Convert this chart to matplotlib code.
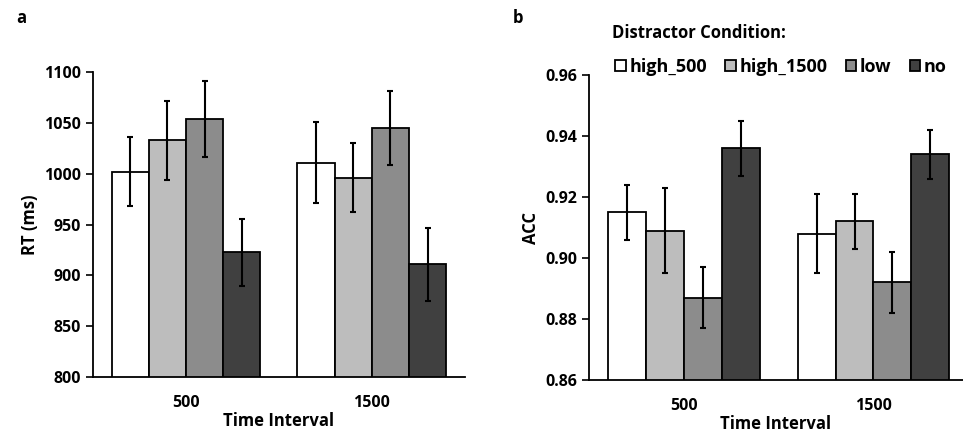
import numpy as np
import matplotlib.pyplot as plt
from matplotlib.patches import Patch

plt.rcParams['font.family'] = ['Open Sans', 'DejaVu Sans']
plt.rcParams['font.weight'] = 'bold'

intervals = ['500', '1500']
conditions = ['high_500', 'high_1500', 'low', 'no']
colors = ['#ffffff', '#bdbdbd', '#8c8c8c', '#404040']

# RT (ms) per condition, [500, 1500]
rt = {'high_500': [1002, 1011], 'high_1500': [1033, 996],
      'low': [1054, 1045], 'no': [923, 911]}
rt_err = {'high_500': [34, 40], 'high_1500': [39, 34],
          'low': [37, 36], 'no': [33, 36]}

acc = {'high_500': [0.915, 0.908], 'high_1500': [0.909, 0.912],
       'low': [0.887, 0.892], 'no': [0.936, 0.934]}
acc_err = {'high_500': [0.009, 0.013], 'high_1500': [0.014, 0.009],
           'low': [0.010, 0.010], 'no': [0.009, 0.008]}

fig = plt.figure(figsize=(9.63, 4.33), dpi=100)
ax1 = fig.add_axes([0.0966, 0.1293, 0.386, 0.704])
ax2 = fig.add_axes([0.6116, 0.1224, 0.388, 0.704])

x = np.arange(len(intervals))
w = 0.2


def draw(ax, vals, errs):
    for i, c in enumerate(conditions):
        ax.bar(x + (i - 1.5) * w, vals[c], w, color=colors[i],
               edgecolor='black', linewidth=1.3, label=c, zorder=2)
        ax.errorbar(x + (i - 1.5) * w, vals[c], yerr=errs[c], fmt='none',
                    ecolor='black', elinewidth=1.5, capsize=2, capthick=1.5, zorder=3)
    ax.set_xticks(x)
    ax.set_xticklabels(intervals)
    ax.tick_params(axis='x', length=0, pad=13, labelsize=11.5)
    ax.tick_params(axis='y', length=5, width=1.2, labelsize=11.5)
    for s in ['top', 'right']:
        ax.spines[s].set_visible(False)
    for s in ['left', 'bottom']:
        ax.spines[s].set_linewidth(1.3)
    ax.set_xlabel('Time Interval', fontsize=12, fontweight='bold', labelpad=1)


draw(ax1, rt, rt_err)
ax1.set_xlim(-0.5, 1.5)
ax1.set_ylim(800, 1100)
ax1.set_yticks(np.arange(800, 1101, 50))
ax1.set_ylabel('RT (ms)', fontsize=12, fontweight='bold')

draw(ax2, acc, acc_err)
ax2.set_xlim(-0.5, 1.47)
ax2.set_ylim(0.86, 0.96)
ax2.set_yticks(np.arange(0.86, 0.961, 0.02))
ax2.set_yticklabels(['%.2f' % v for v in np.arange(0.86, 0.961, 0.02)])
ax2.set_ylabel('ACC', fontsize=12, fontweight='bold')

fig.text(0.017, 0.958, 'a', fontsize=12, fontweight='bold', va='center')
fig.text(0.532, 0.958, 'b', fontsize=12, fontweight='bold', va='center')

fig.text(0.6355, 0.924, 'Distractor Condition:', fontsize=12, fontweight='bold', va='center')
handles = [Patch(facecolor=colors[i], edgecolor='black', linewidth=1.3)
           for i in range(len(conditions))]
fig.legend(handles, conditions, loc='center left', bbox_to_anchor=(0.6386, 0.845),
           ncol=4, frameon=False, prop={'weight': 'bold', 'size': 13},
           handlelength=0.6, handleheight=0.6, handletextpad=0.2,
           columnspacing=1.0, borderpad=0, borderaxespad=0)

fig.savefig('out.png', dpi=100)
